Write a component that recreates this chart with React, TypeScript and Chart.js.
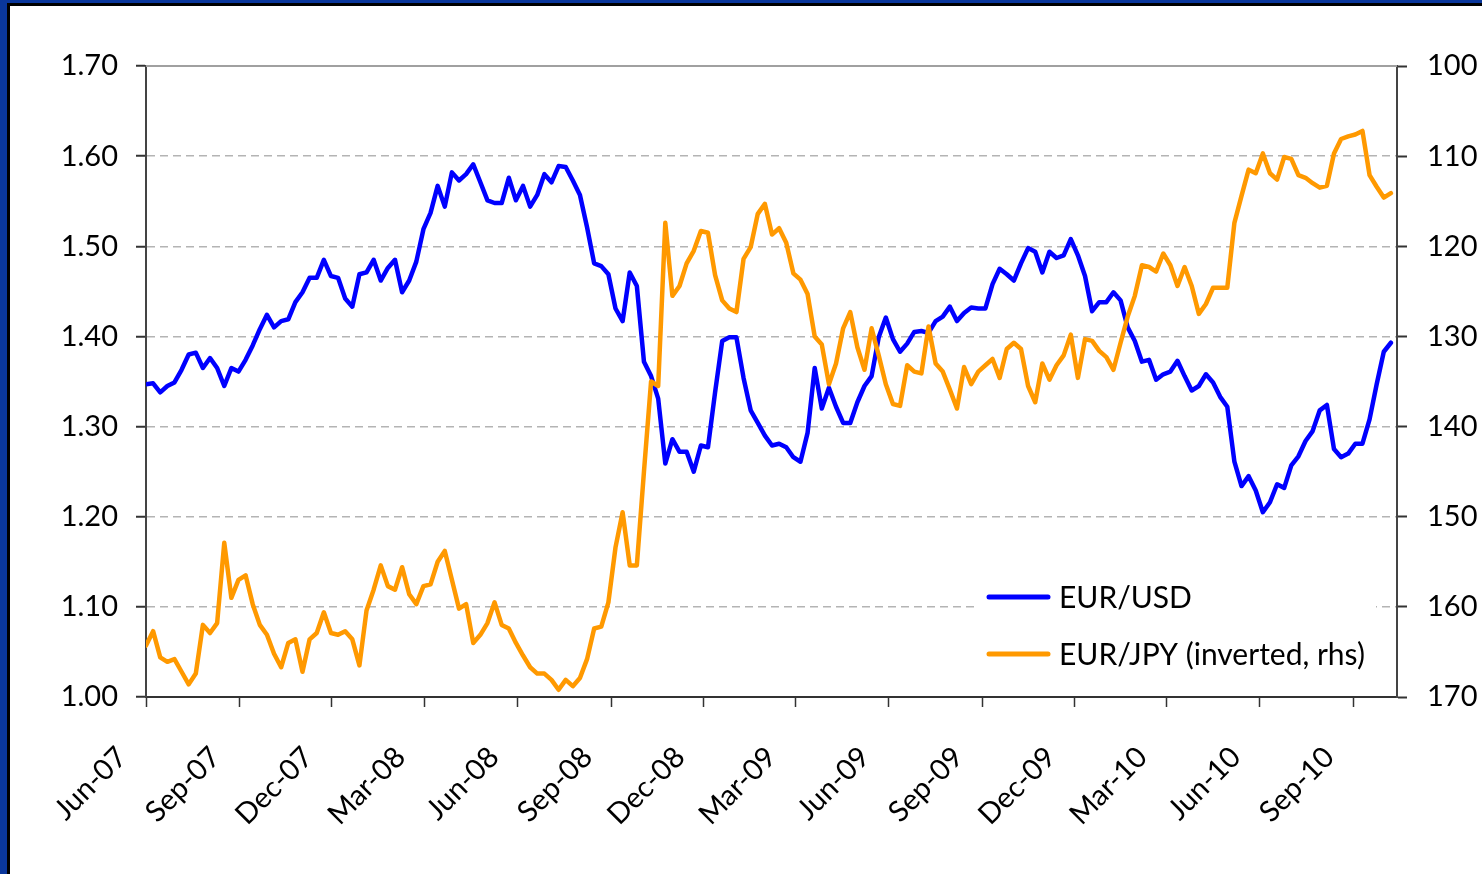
import React, { useEffect, useRef } from 'react';
import { Chart, registerables } from 'chart.js';

Chart.register(...registerables);

// Quarterly tick labels on the date axis (first of each month)
const TICK_LABELS = [
  'Jun-07', 'Sep-07', 'Dec-07', 'Mar-08', 'Jun-08', 'Sep-08', 'Dec-08',
  'Mar-09', 'Jun-09', 'Sep-09', 'Dec-09', 'Mar-10', 'Jun-10', 'Sep-10',
];

// Left axis ticks (EUR/USD) and right axis ticks (EUR/JPY, inverted)
const USD_TICKS = [1.0, 1.1, 1.2, 1.3, 1.4, 1.5, 1.6, 1.7];
const JPY_TICKS = [100, 110, 120, 130, 140, 150, 160, 170];

// Weekly observations starting 1 Jun 2007
const EURUSD = [
  1.347, 1.348, 1.338, 1.345, 1.349, 1.363, 1.380, 1.382, 1.365, 1.376,
  1.365, 1.345, 1.365, 1.361, 1.374, 1.390, 1.408, 1.424, 1.410, 1.417,
  1.419, 1.438, 1.449, 1.465, 1.465, 1.485, 1.467, 1.465, 1.442, 1.433,
  1.469, 1.471, 1.485, 1.462, 1.476, 1.485, 1.449, 1.462, 1.483, 1.519,
  1.537, 1.567, 1.544, 1.582, 1.573,
  1.580, 1.591, 1.571, 1.551, 1.548, 1.548, 1.576, 1.551, 1.567, 1.544,
  1.557, 1.580, 1.571, 1.589, 1.588, 1.573, 1.557, 1.521, 1.481, 1.478,
  1.469, 1.431, 1.417, 1.471, 1.456, 1.372, 1.356, 1.331, 1.259, 1.286,
  1.272, 1.272, 1.250, 1.279, 1.277, 1.338, 1.395, 1.399, 1.399, 1.354,
  1.318, 1.304, 1.290,
  1.279, 1.281, 1.277, 1.266, 1.261, 1.293, 1.365, 1.320, 1.343, 1.322,
  1.304, 1.304, 1.327, 1.345, 1.356, 1.399, 1.421, 1.397, 1.383, 1.392,
  1.405, 1.406, 1.404, 1.417, 1.422, 1.433, 1.417, 1.426, 1.432, 1.431,
  1.431, 1.458, 1.475, 1.469, 1.462, 1.481, 1.498, 1.494, 1.471, 1.494,
  1.487, 1.490, 1.508, 1.490,
  1.467, 1.428, 1.438, 1.438, 1.449, 1.440, 1.410, 1.395, 1.372, 1.374,
  1.352, 1.358, 1.361, 1.373, 1.356, 1.340, 1.345, 1.358, 1.349, 1.333,
  1.322, 1.261, 1.234, 1.245, 1.229, 1.205, 1.216, 1.236, 1.232, 1.257,
  1.267, 1.284, 1.295, 1.318, 1.324, 1.275, 1.266, 1.270, 1.281, 1.281,
  1.308, 1.347, 1.383, 1.393,
];

const EURJPY = [
  164.3, 162.7, 165.6, 166.1, 165.8, 167.2, 168.6, 167.4, 162.0, 162.9,
  161.8, 152.9, 159.0, 157.0, 156.5, 159.7, 162.0, 163.1, 165.2, 166.7,
  164.0, 163.6, 167.2, 163.6, 162.9, 160.6, 162.9, 163.1, 162.7, 163.6,
  166.5, 160.4, 158.1, 155.4, 157.7, 158.1, 155.6, 158.6, 159.7, 157.7,
  157.5, 155.0, 153.8, 157.0, 160.2,
  159.7, 164.0, 163.1, 161.8, 159.5, 162.0, 162.4, 164.0, 165.4, 166.7,
  167.4, 167.4, 168.1, 169.2, 168.1, 168.8, 167.9, 165.8, 162.4, 162.2,
  159.5, 153.4, 149.5, 155.4, 155.4, 145.0, 135.0, 135.5, 117.4, 125.5,
  124.4, 121.9, 120.5, 118.3, 118.5, 123.2, 126.0, 126.9, 127.3, 121.4,
  120.1, 116.4, 115.3,
  118.7, 118.0, 119.6, 123.0, 123.7, 125.3, 130.0, 130.9, 135.3, 133.0,
  129.1, 127.3, 131.2, 133.7, 129.1, 132.1, 135.3, 137.5, 137.7, 133.2,
  133.9, 134.1, 128.9, 133.0, 133.9, 135.9, 138.0, 133.4, 135.3, 133.9,
  133.2, 132.5, 134.6, 131.4, 130.7, 131.4, 135.5, 137.3, 133.0, 134.8,
  133.2, 132.1, 129.8, 134.6,
  130.3, 130.5, 131.6, 132.3, 133.7, 130.7, 127.8, 125.5, 122.1, 122.3,
  122.8, 120.8, 122.1, 124.4, 122.3, 124.4, 127.5, 126.4, 124.6, 124.6,
  124.6, 117.4, 114.4, 111.5, 111.9, 109.7, 111.9, 112.6, 110.1, 110.3,
  112.1, 112.4, 113.0, 113.5, 113.3, 109.7, 108.1, 107.8, 107.6, 107.2,
  112.1, 113.4, 114.6, 114.1,
];

const SERIES_NAMES = ['EUR/USD', 'EUR/JPY (inverted, rhs)'];

const W = 1482;
const H = 874;
const DAY_MS = 86400000;
const START = Date.UTC(2007, 5, 1);
const END = Date.UTC(2010, 9, 14);
const FONT = "Lato, 'Open Sans', sans-serif";
const BLUE = '#0000ff';
const ORANGE = '#ff9900';

const tickDays = TICK_LABELS.map((_, k) => (Date.UTC(2007, 5 + 3 * k, 1) - START) / DAY_MS);
const maxDays = (END - START) / DAY_MS;

const near = (a: number, b: number) => Math.abs(a - b) < 1e-6;

const framePlugin = {
  id: 'frameAndLegend',
  beforeDatasetsDraw(chart: any) {
    const { ctx, chartArea } = chart;
    ctx.save();
    // top border of plot area
    ctx.strokeStyle = '#a0a0a0';
    ctx.lineWidth = 2;
    ctx.beginPath();
    ctx.moveTo(chartArea.left, chartArea.top);
    ctx.lineTo(chartArea.right, chartArea.top);
    ctx.stroke();
    // legend box background
    ctx.fillStyle = '#ffffff';
    ctx.fillRect(977, 572, 399, 108);
    ctx.restore();
  },
  afterDatasetsDraw(chart: any) {
    const { ctx } = chart;
    const items = [
      { label: SERIES_NAMES[0], color: BLUE, y: 597 },
      { label: SERIES_NAMES[1], color: ORANGE, y: 654 },
    ];
    ctx.save();
    ctx.font = `30px ${FONT}`;
    ctx.textBaseline = 'middle';
    ctx.textAlign = 'left';
    items.forEach((it) => {
      ctx.strokeStyle = it.color;
      ctx.lineWidth = 5;
      ctx.lineCap = 'round';
      ctx.beginPath();
      ctx.moveTo(989, it.y);
      ctx.lineTo(1048, it.y);
      ctx.stroke();
      ctx.fillStyle = '#000';
      ctx.fillText(it.label, 1059, it.y + 1);
    });
    ctx.restore();
  },
};

export default function App() {
  const ref = useRef<HTMLCanvasElement | null>(null);

  useEffect(() => {
    if (!ref.current) return;
    const tickFont = { family: FONT, size: 29 };
    const chart = new Chart(ref.current, {
      type: 'line',
      data: {
        datasets: [
          {
            label: SERIES_NAMES[0],
            data: EURUSD.map((v, i) => ({ x: i * 7, y: v })),
            borderColor: BLUE,
            borderWidth: 4.5,
            borderJoinStyle: 'round',
            borderCapStyle: 'round',
            tension: 0,
            pointRadius: 0,
            yAxisID: 'y',
            order: 1,
          },
          {
            label: SERIES_NAMES[1],
            data: EURJPY.map((v, i) => ({ x: i * 7, y: v })),
            borderColor: ORANGE,
            borderWidth: 4.5,
            borderJoinStyle: 'round',
            borderCapStyle: 'round',
            tension: 0,
            pointRadius: 0,
            yAxisID: 'y1',
            order: 0,
          },
        ],
      },
      options: {
        responsive: false,
        animation: false,
        parsing: false as any,
        layout: { padding: { top: 66, left: 0, right: 0, bottom: 0 } },
        plugins: { legend: { display: false }, tooltip: { enabled: false } },
        scales: {
          x: {
            type: 'linear',
            min: 0,
            max: maxDays,
            afterBuildTicks: (s: any) => {
              s.ticks = tickDays.map((v) => ({ value: v }));
            },
            afterFit: (s: any) => {
              s.height = H - 697;
            },
            grid: { drawOnChartArea: false, drawTicks: true, tickLength: 10, tickColor: '#333', tickWidth: 1.5 },
            border: { display: true, color: '#333', width: 2 },
            ticks: {
              autoSkip: false,
              minRotation: 45,
              maxRotation: 45,
              padding: 33,
              labelOffset: -24,
              color: '#000',
              font: tickFont,
              callback: (_v: any, i: number) => TICK_LABELS[i],
            },
          },
          y: {
            position: 'left',
            min: 1.0,
            max: 1.7,
            afterBuildTicks: (s: any) => {
              s.ticks = USD_TICKS.map((v) => ({ value: v }));
            },
            afterFit: (s: any) => {
              s.width = 146;
            },
            grid: {
              color: (c: any) => (near(c.tick.value, 1.0) || near(c.tick.value, 1.7) ? 'rgba(0,0,0,0)' : '#b4b4b4'),
              lineWidth: 1.5,
              tickLength: 10,
              tickColor: '#333',
              tickWidth: 2,
            },
            border: { display: true, color: '#444', width: 2, dash: [8, 5] },
            ticks: {
              padding: 18,
              color: '#000',
              font: tickFont,
              callback: (v: any) => Number(v).toFixed(2),
            },
          },
          y1: {
            position: 'right',
            reverse: true,
            min: 100,
            max: 170,
            afterBuildTicks: (s: any) => {
              s.ticks = JPY_TICKS.map((v) => ({ value: v }));
            },
            afterFit: (s: any) => {
              s.width = W - 1397;
            },
            grid: { drawOnChartArea: false, tickLength: 10, tickColor: '#333', tickWidth: 2 },
            border: { display: true, color: '#444', width: 2 },
            ticks: {
              padding: 20,
              color: '#000',
              font: tickFont,
              callback: (v: any) => String(v),
            },
          },
        },
      } as any,
      plugins: [framePlugin],
    });
    return () => chart.destroy();
  }, []);

  return (
    <div
      style={{
        position: 'fixed',
        left: 0,
        top: 0,
        width: W,
        height: H,
        overflow: 'hidden',
        background: '#0a379c',
      }}
    >
      <div
        style={{
          position: 'absolute',
          left: 7,
          top: 3,
          width: W + 20,
          height: H + 20,
          background: '#ffffff',
          borderLeft: '3px solid #000',
          borderTop: '3px solid #000',
        }}
      />
      <canvas
        ref={ref}
        width={W}
        height={H}
        style={{ position: 'absolute', left: 0, top: 0, width: W, height: H }}
      />
    </div>
  );
}
